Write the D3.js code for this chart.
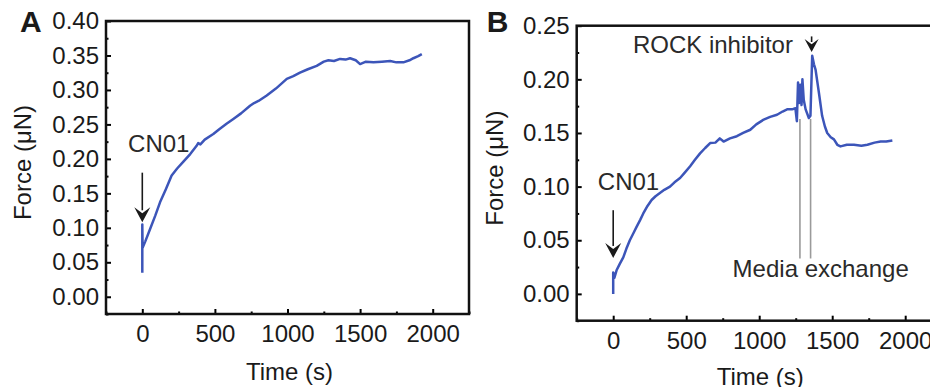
<!DOCTYPE html>
<html>
<head>
<meta charset="utf-8">
<script src="https://cdn.jsdelivr.net/npm/d3@7"></script>
<style>
  body { margin: 0; background: #fff; }
  svg { display: block; font-family: "Liberation Sans", Arial, sans-serif; }
  .tick text { font-size: 24px; fill: #1a1a1a; }
</style>
</head>
<body>
<div id="chart"></div>
<script>
var svgWidth = 930;
var svgHeight = 387;

var lineColor = "#3c55b9";

// panel A: time (s) and force (uN)
var timeA = [0, 0, 2, 20, 53, 90, 122, 160, 202, 240, 283, 330, 374, 385, 400, 430, 489, 530, 580, 627, 680,
  742, 770, 800, 857, 920, 995, 1040, 1086, 1140, 1201, 1250, 1282, 1320, 1362, 1400, 1431, 1470, 1500,
  1540, 1592, 1650, 1707, 1750, 1798, 1840, 1867, 1900, 1925];
var forceA = [0.035, 0.105, 0.071, 0.080, 0.098, 0.118, 0.137, 0.155, 0.176, 0.186, 0.196, 0.207, 0.219,
  0.223, 0.221, 0.228, 0.236, 0.243, 0.251, 0.258, 0.266, 0.277, 0.281, 0.284, 0.292, 0.302, 0.316, 0.320, 0.325,
  0.330, 0.335, 0.341, 0.343, 0.342, 0.345, 0.344, 0.346, 0.343, 0.3375, 0.341, 0.340, 0.341, 0.342,
  0.340, 0.340, 0.343, 0.346, 0.349, 0.352];

// panel B
var timeB = [0, 0, 8, 23, 45, 69, 90, 114, 140, 160, 185, 206, 235, 263, 290, 320, 350, 389, 420, 458,
  490, 527, 560, 595, 630, 664, 700, 730, 756, 800, 847, 890, 939, 980, 1031, 1075, 1122, 1160, 1191, 1225,
  1248, 1258, 1266, 1274, 1282, 1290, 1296, 1305, 1318, 1340, 1351, 1363, 1375, 1386, 1409, 1431,
  1450, 1466, 1490, 1512, 1535, 1557, 1600, 1649, 1700, 1741, 1790, 1832, 1870, 1912];
var forceB = [0.000, 0.020, 0.015, 0.022, 0.028, 0.034, 0.042, 0.050, 0.057, 0.0625, 0.069, 0.075, 0.082,
  0.0875, 0.091, 0.094, 0.097, 0.100, 0.104, 0.108, 0.113, 0.119, 0.125, 0.131, 0.136, 0.1406, 0.141,
  0.145, 0.142, 0.145, 0.147, 0.150, 0.153, 0.158, 0.1625, 0.165, 0.167, 0.170, 0.172, 0.172, 0.173, 0.161,
  0.197, 0.178, 0.195, 0.176, 0.200, 0.181, 0.172, 0.164, 0.166, 0.222, 0.214, 0.209, 0.1875, 0.166,
  0.156, 0.150, 0.146, 0.144, 0.139, 0.1375, 0.139, 0.139, 0.138, 0.139, 0.141, 0.142, 0.142, 0.143];

var xTicks = [0, 500, 1000, 1500, 2000];
var xMinor = [-250, 250, 750, 1250, 1750, 2250];
var yTicksA = [0, 0.05, 0.10, 0.15, 0.20, 0.25, 0.30, 0.35, 0.40];
var yTicksB = [0, 0.05, 0.10, 0.15, 0.20, 0.25];

// media exchange times (panel B)
var exchangeTimes = [1279, 1352];

var svg = d3.select("#chart").append("svg")
  .attr("width", svgWidth)
  .attr("height", svgHeight);

function arrow(g, x, y1, y2, w, h) {
  g.append("line")
    .attr("x1", x).attr("x2", x)
    .attr("y1", y1).attr("y2", y2 - h + 3)
    .attr("stroke", "#1a1a1a")
    .attr("stroke-width", 1.6);
  g.append("path")
    .attr("d", `M${x},${y2} L${x - w / 2},${y2 - h} L${x},${y2 - h * 0.6} L${x + w / 2},${y2 - h} Z`)
    .attr("fill", "#1a1a1a");
}

function drawPanel(p) {
  var g = svg.append("g")
    .attr("transform", `translate(${p.left}, ${p.top})`);

  var x = d3.scaleLinear().domain([-250, 2250]).range([0, p.width]);
  var y = d3.scaleLinear().domain(p.yDomain).range([p.height, 0]);

  // minor ticks
  var minorY = [];
  for (var i = 0; i < p.yTicks.length - 1; i++) minorY.push(p.yTicks[i] + 0.025);
  minorY.push(p.yTicks[0] - 0.025);

  g.append("g")
    .call(d3.axisLeft(y).tickValues(minorY).tickSize(-2.5).tickFormat(""))
    .call(a => a.select(".domain").remove())
    .selectAll("line").attr("stroke-width", 2);
  g.append("g")
    .attr("transform", `translate(0, ${p.height})`)
    .call(d3.axisBottom(x).tickValues(xMinor).tickSize(-2.5).tickFormat(""))
    .call(a => a.select(".domain").remove())
    .selectAll("line").attr("stroke-width", 2);

  // major ticks
  g.append("g")
    .call(d3.axisLeft(y).tickValues(p.yTicks).tickSize(-5).tickPadding(7).tickFormat(d3.format(".2f")))
    .call(a => a.select(".domain").remove())
    .call(a => a.selectAll("line").attr("stroke-width", 2));
  g.append("g")
    .attr("transform", `translate(0, ${p.height})`)
    .call(d3.axisBottom(x).tickValues(xTicks).tickSize(-5).tickPadding(11).tickFormat(d3.format("d")))
    .call(a => a.select(".domain").remove())
    .call(a => a.selectAll("line").attr("stroke-width", 2))
    .selectAll("text").attr("dy", "0.71em");

  g.append("rect")
    .attr("width", p.width)
    .attr("height", p.height)
    .attr("fill", "none")
    .attr("stroke", "#111")
    .attr("stroke-width", 2.5);

  // data
  var pts = p.time.map((t, i) => [t, p.force[i]]);
  var line = d3.line().x(d => x(d[0])).y(d => y(d[1]));

  if (p.exchange) {
    p.exchange.forEach(function(t) {
      g.append("line")
        .attr("x1", x(t)).attr("x2", x(t))
        .attr("y1", y(0.163)).attr("y2", y(0.033))
        .attr("stroke", "#9a9a9a")
        .attr("stroke-width", 1.6);
    });
  }

  g.append("path")
    .datum(pts)
    .attr("d", line)
    .attr("fill", "none")
    .attr("stroke", lineColor)
    .attr("stroke-width", 2.5)
    .attr("stroke-linejoin", "round");

  // titles
  g.append("text")
    .attr("x", p.width / 2 - (p.width - 363) / 2 + 2)
    .attr("y", p.height + p.xTitleDy)
    .attr("text-anchor", "middle")
    .attr("font-size", 24)
    .attr("fill", "#1a1a1a")
    .text("Time (s)");
  g.append("text")
    .attr("transform", `translate(${p.yTitleX}, ${p.height / 2 - 5}) rotate(-90)`)
    .attr("text-anchor", "middle")
    .attr("font-size", 24)
    .attr("fill", "#1a1a1a")
    .text("Force (\u03bcN)");
  g.append("text")
    .attr("x", p.letterX)
    .attr("y", p.letterY)
    .attr("font-size", 30)
    .attr("font-weight", "bold")
    .attr("fill", "#1a1a1a")
    .text(p.letter);

  // annotations
  p.notes.forEach(function(n) {
    g.append("text")
      .attr("x", x(n.t))
      .attr("y", y(n.v))
      .attr("font-size", 24)
      .attr("fill", "#2a2a2a")
      .text(n.label);
  });
  p.arrows.forEach(function(a) {
    arrow(g, x(a.t), y(a.v1), y(a.v2), a.w, a.h);
  });
}

drawPanel({
  letter: "A", letterX: -86, letterY: 11,
  left: 106, top: 21, width: 363, height: 293,
  yDomain: [-0.025, 0.40], yTicks: yTicksA,
  time: timeA, force: forceA,
  xTitleDy: 66, yTitleX: -75,
  notes: [{ t: -98, v: 0.21, label: "CN01" }],
  arrows: [{ t: 0, v1: 0.18, v2: 0.108, w: 16, h: 15 }]
});

drawPanel({
  letter: "B", letterX: -90, letterY: 6,
  left: 576.7, top: 25.7, width: 365, height: 295,
  yDomain: [-0.025, 0.25], yTicks: yTicksB,
  time: timeB, force: forceB, exchange: exchangeTimes,
  xTitleDy: 64, yTitleX: -74,
  notes: [
    { t: -105, v: 0.0968, label: "CN01" },
    { t: 135, v: 0.2245, label: "ROCK inhibitor" },
    { t: 818, v: 0.0157, label: "Media exchange" }
  ],
  arrows: [
    { t: 0, v1: 0.078, v2: 0.0335, w: 16, h: 15 },
    { t: 1359, v1: 0.240, v2: 0.2255, w: 14, h: 13 }
  ]
});
</script>
</body>
</html>
